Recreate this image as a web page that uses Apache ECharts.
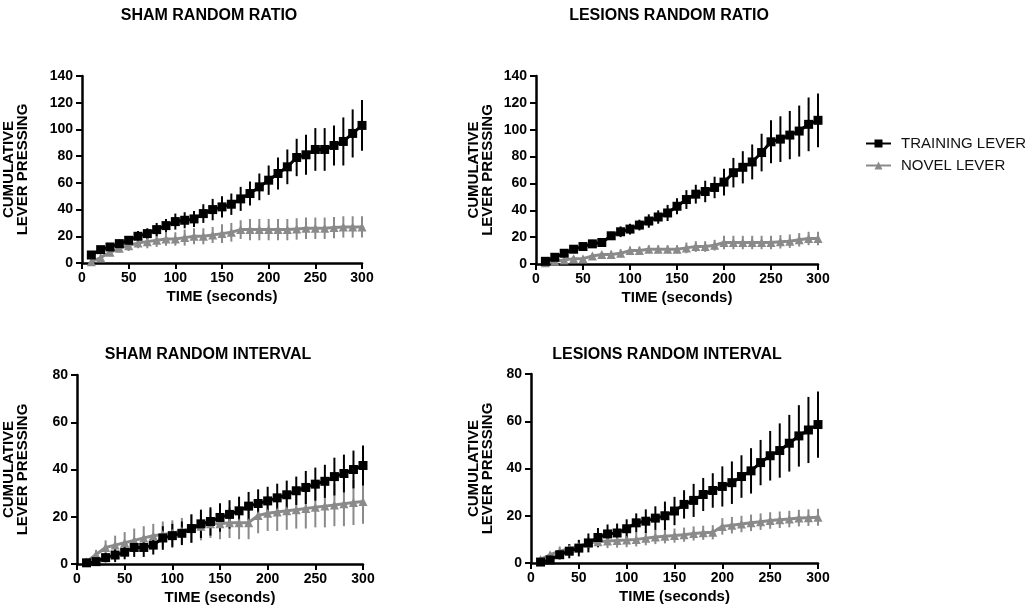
<!DOCTYPE html>
<html>
<head>
<meta charset="utf-8">
<script src="https://cdn.jsdelivr.net/npm/echarts@6/dist/echarts.min.js"></script>
<style>html,body{margin:0;padding:0;background:#fff}#c{width:1031px;height:616px}</style>
</head>
<body>
<div id="c"></div>
<script>
const times = [10,20,30,40,50,60,70,80,90,100,110,120,130,140,150,160,170,180,190,200,210,220,230,240,250,260,270,280,290,300];
const xTicks = [0,50,100,150,200,250,300];
const panelTitles = ['SHAM RANDOM RATIO','LESIONS RANDOM RATIO','SHAM RANDOM INTERVAL','LESIONS RANDOM INTERVAL'];
const seriesNames = ['TRAINING LEVER','NOVEL LEVER'];

// Sham random ratio
const shamRatioTraining = [6,10,12,14.5,17,20,22,25,28,31,32,33,37,40,42,44,48,52,57,62,67,72,79,81,85,85,88,91,97,103];
const shamRatioTrainingErr = [1,2,2,3,3,4,4,5,5,6,6,6,7,8,8,8,9,9,10,11,12,13,14,15,16,16,15,18,18,19];
const shamRatioNovel = [1,4,8,11,13,15,16,17,18,18,19,20,20,21,22,23,25,25,25,25,25,25,25.5,26,26,26,26.5,27,27,27];
const shamRatioNovelErr = [1,2,3,3,4,4,5,5,5,5,6,6,6,6,7,7,7,8,8,8,8,8,8,8,8,8,8,8,8,8];

// Lesions random ratio
const lesRatioTraining = [2,5,8,11,13,15,16,21,24,26,29,32,35,38,43,48,52,54,57,61,68,72,76,83,91,93,96,99,104,107];
const lesRatioTrainingErr = [1,1,2,2,2,3,3,3,4,4,4,5,5,6,6,7,7,8,8,10,11,12,13,14,16,17,18,19,20,20];
const lesRatioNovel = [1,2,3,4,4,6,7,7,8,10,10,11,11,11,11,12,13,13,14,16,16,16,16,16,16,16.5,17,18,19,19];
const lesRatioNovelErr = [1,1,1,2,2,2,2,3,3,3,3,3,3,3,3,4,4,4,4,5,5,5,5,5,5,5,5,5,5,5];

// Sham random interval
const shamIntTraining = [0.5,1,2.7,3.8,5,7,7,8,11,12,13,15,17,18,19.7,21,22.5,24.5,25.6,26.7,28,29.3,31,32.4,33.8,35,37,38.3,40,41.7];
const shamIntTrainingErr = [0.5,1,2,3,3,4,4,4,5,5,5,6,6,6,6,6,6,6,6,6,6,6,6,7,7,7,8,8,8,8.5];
const shamIntNovel = [1,4,7,8,9,10,11,12,12.5,13,14,15,16,17,17,17.5,17.5,17.5,20.5,21.5,22,22.5,23,23.5,24,24.5,25,25.5,26,26.5];
const shamIntNovelErr = [0.5,2,3,4,4.5,5,5,5,5.5,5.5,5.5,6,6,6,6.5,6.5,7,7,7.5,7.5,8,8,8,8.5,8.5,9,9,9.5,9.5,9.5];

// Lesions random interval
const lesIntTraining = [0.4,1.3,3.5,5,6.3,8.5,10.8,12.3,12.7,14.5,17,17.7,19,20,22,24.8,26.5,29,30.7,32.4,34,36.6,39,42.5,45.4,47.6,50.7,53.8,56.3,58.6];
const lesIntTrainingErr = [0.5,1,2,3,3.5,4,4,4,4,4,4,5,5,6,6,6,7,7,7.3,8.5,9,9,9.6,9.6,10.5,11.5,12,13,14,14];
const lesIntNovel = [1.5,3.5,5,6,7,8.5,9,9.3,9.5,9.7,10,10.5,11,11.3,11.6,12,12.5,12.8,13,15.5,16,16.5,17,17.5,18,18.3,18.6,19,19.2,19.4];
const lesIntNovelErr = [0.5,1,2,2,2.5,2.5,2.5,3,3,3,3,3,3,3,3,3,3,3,3,3.5,3.5,3.5,3.5,3.5,3.5,3.5,3.5,3.5,3.5,3.6];

const yMax = [140,140,80,80];
const yInterval = 20;

const panels = [
  {tr: shamRatioTraining, trE: shamRatioTrainingErr, nv: shamRatioNovel, nvE: shamRatioNovelErr},
  {tr: lesRatioTraining, trE: lesRatioTrainingErr, nv: lesRatioNovel, nvE: lesRatioNovelErr},
  {tr: shamIntTraining, trE: shamIntTrainingErr, nv: shamIntNovel, nvE: shamIntNovelErr},
  {tr: lesIntTraining, trE: lesIntTrainingErr, nv: lesIntNovel, nvE: lesIntNovelErr}
];

const FONT = "'Liberation Sans', Arial, sans-serif";
const BLACK = '#000000';
const GRAY = '#8a8a8a';

const layout = [
  {grid:{left:82, top:76, width:280, height:187}, titleX:209, titleY:8, nameGap:52},
  {grid:{left:536, top:76, width:282, height:188}, titleX:669, titleY:8, nameGap:41},
  {grid:{left:77, top:375, width:286, height:189}, titleX:208, titleY:347, nameGap:47},
  {grid:{left:531, top:374, width:287, height:189}, titleX:667, titleY:347, nameGap:36}
];

const grids = [], xAxes = [], yAxes = [], series = [], titles = [];

function errRender(color) {
  return function (params, api) {
    const x = api.value(0);
    const p1 = api.coord([x, api.value(1)]);
    const p2 = api.coord([x, api.value(2)]);
    return {type:'line', shape:{x1:p1[0], y1:p1[1], x2:p2[0], y2:p2[1]}, style:{stroke:color, lineWidth:2}};
  };
}

panels.forEach((p, i) => {
  const L = layout[i];
  grids.push(Object.assign({containLabel:false}, L.grid));
  titles.push({
    text: panelTitles[i], left: L.titleX, top: L.titleY,
    textAlign: 'center', padding: 0,
    textStyle: {fontFamily: FONT, fontSize: 16, fontWeight: 'bold', color: '#000'}
  });
  xAxes.push({
    gridIndex: i, type: 'value', min: 0, max: 300, interval: 50,
    name: 'TIME (seconds)', nameLocation: 'middle', nameGap: 26,
    nameTextStyle: {fontFamily: FONT, fontSize: 15, fontWeight: 'bold', color: '#000'},
    axisLine: {lineStyle: {color: '#000', width: 2.5}},
    axisTick: {length: 6, lineStyle: {color: '#000', width: 2}},
    axisLabel: {fontFamily: FONT, fontSize: 14, fontWeight: 'bold', color: '#000', margin: 8,
      formatter: v => xTicks.indexOf(v) >= 0 ? String(v) : ''},
    splitLine: {show: false}
  });
  yAxes.push({
    gridIndex: i, type: 'value', min: 0, max: yMax[i], interval: yInterval,
    name: 'CUMULATIVE\nLEVER PRESSING', nameLocation: 'middle', nameRotate: 90, nameGap: L.nameGap,
    nameTextStyle: {fontFamily: FONT, fontSize: 15, fontWeight: 'bold', color: '#000', lineHeight: 14},
    axisLine: {show: true, lineStyle: {color: '#000', width: 2.5}},
    axisTick: {show: true, length: 6, lineStyle: {color: '#000', width: 2}},
    axisLabel: {fontFamily: FONT, fontSize: 14, fontWeight: 'bold', color: '#000', margin: 9},
    splitLine: {show: false}
  });
  series.push({
    type: 'custom', name: seriesNames[1] + ' err', xAxisIndex: i, yAxisIndex: i,
    renderItem: errRender(GRAY), z: 1, silent: true,
    data: times.map((t, k) => [t, p.nv[k] - p.nvE[k], p.nv[k] + p.nvE[k]])
  });
  series.push({
    type: 'custom', name: seriesNames[0] + ' err', xAxisIndex: i, yAxisIndex: i,
    renderItem: errRender(BLACK), z: 2, silent: true,
    data: times.map((t, k) => [t, p.tr[k] - p.trE[k], p.tr[k] + p.trE[k]])
  });
  series.push({
    type: 'line', name: seriesNames[1], xAxisIndex: i, yAxisIndex: i, z: 3,
    data: times.map((t, k) => [t, p.nv[k]]),
    symbol: 'triangle', symbolSize: 9,
    itemStyle: {color: GRAY}, lineStyle: {color: GRAY, width: 3}
  });
  series.push({
    type: 'line', name: seriesNames[0], xAxisIndex: i, yAxisIndex: i, z: 4,
    data: times.map((t, k) => [t, p.tr[k]]),
    symbol: 'rect', symbolSize: 9,
    itemStyle: {color: BLACK}, lineStyle: {color: BLACK, width: 3}
  });
});

const chart = echarts.init(document.getElementById('c'), null, {renderer: 'canvas'});
chart.setOption({
  animation: false,
  backgroundColor: '#fff',
  title: titles,
  legend: {
    data: seriesNames, orient: 'vertical', left: 865, top: 136, padding: 0,
    itemWidth: 25, itemHeight: 10, itemGap: 7,
    textStyle: {fontFamily: FONT, fontSize: 15, color: '#111', padding: [0,0,0,5]}
  },
  grid: grids, xAxis: xAxes, yAxis: yAxes, series: series
});
</script>
</body>
</html>
